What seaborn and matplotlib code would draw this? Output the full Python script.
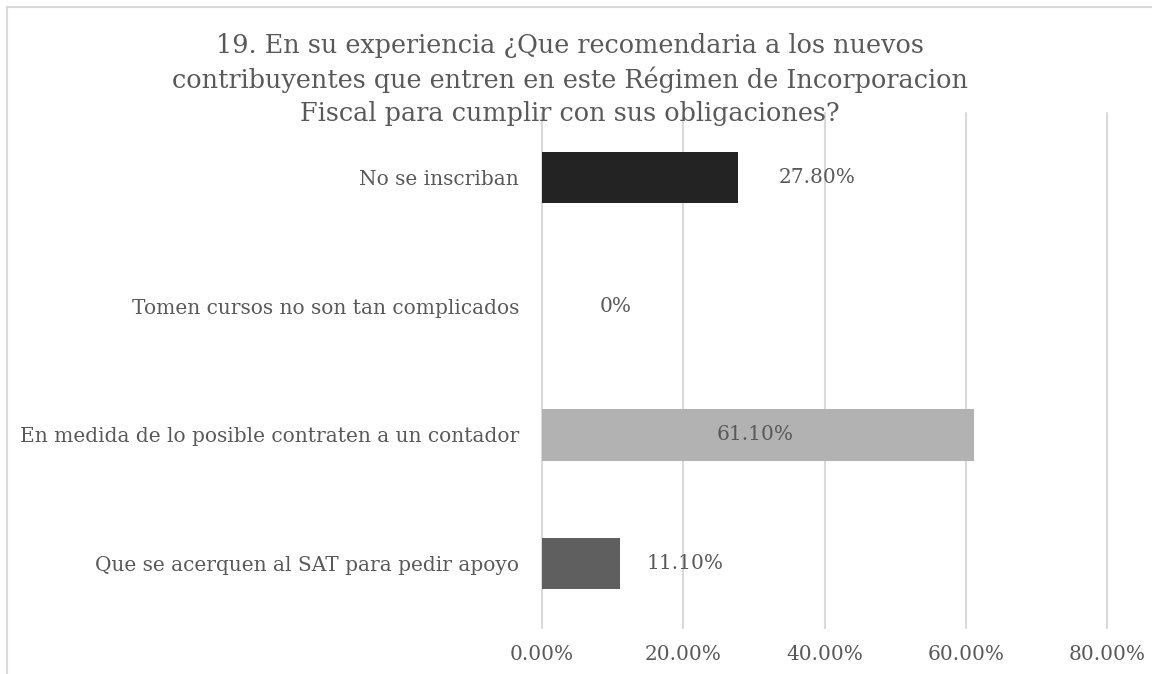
import matplotlib
matplotlib.use("Agg")
import matplotlib.pyplot as plt
import seaborn as sns
import pandas as pd
from matplotlib.lines import Line2D

# ---- data ----
categories = [
    "No se inscriban",
    "Tomen cursos no son tan complicados",
    "En medida de lo posible contraten a un contador",
    "Que se acerquen al SAT para pedir apoyo",
]
values = [0.278, 0.0, 0.611, 0.111]
value_labels = ["27.80%", "0%", "61.10%", "11.10%"]
x_ticks = [0.0, 0.2, 0.4, 0.6, 0.8]
x_tick_labels = ["0.00%", "20.00%", "40.00%", "60.00%", "80.00%"]
title_lines = [
    "19. En su experiencia ¿Que recomendaria a los nuevos",
    "contribuyentes que entren en este Régimen de Incorporacion",
    "Fiscal para cumplir con sus obligaciones?",
]

# ---- styles ----
bar_colors = ["#232323", "#ffffff", "#b2b2b2", "#5f5f5f"]
label_offsets_px = [40, 58, -257, 26]
text_color = "#595959"
grid_color = "#d9d9d9"

sns.set_theme(style="white")
plt.rcParams["font.family"] = ["DejaVu Serif", "DejaVu Sans"]

W, H, DPI = 1152, 674, 100
fig = plt.figure(figsize=(W / DPI, H / DPI), dpi=DPI)
ax = fig.add_axes([542 / W, 1 - 628 / H, (1107 - 542) / W, (628 - 113) / H])

df = pd.DataFrame({"cat": categories, "val": values})
sns.barplot(data=df, y="cat", x="val", hue="cat", palette=bar_colors,
            order=categories, hue_order=categories, orient="h",
            width=0.4, legend=False, ax=ax, zorder=3, saturation=1,
            linewidth=0)

ax.set_xlim(0, 0.8)
ax.set_xticks(x_ticks)
ax.set_xticklabels(x_tick_labels)
ax.set_xlabel("")
ax.set_ylabel("")
for s in ax.spines.values():
    s.set_visible(False)
ax.grid(axis="x", color=grid_color, linewidth=1.5, zorder=0)
ax.grid(axis="y", visible=False)
for gl in ax.get_xgridlines():
    gl.set_clip_on(False)
ax.tick_params(axis="y", length=0, pad=16.5, labelsize=14.5, labelcolor=text_color)
ax.tick_params(axis="x", length=0, pad=12, labelsize=14.5, labelcolor=text_color)
ax.set_axisbelow(True)

for i, (v, lab, off) in enumerate(zip(values, value_labels, label_offsets_px)):
    ax.annotate(lab, xy=(v, i), xytext=(off, 0), textcoords="offset pixels",
                ha="left", va="center", fontsize=14.5, color=text_color, zorder=5)

title_y = [46, 80, 113]
for line, yy in zip(title_lines, title_y):
    fig.text(0.495, 1 - yy / H, line, ha="center", va="center",
             fontsize=18.4, color=text_color)

# chart border (left and top visible)
fig.add_artist(Line2D([7 / W, 7 / W], [0, 1 - 7 / H], transform=fig.transFigure,
                      color=grid_color, linewidth=1.5))
fig.add_artist(Line2D([7 / W, 1], [1 - 7 / H, 1 - 7 / H], transform=fig.transFigure,
                      color=grid_color, linewidth=1.5))

fig.savefig("out.png", dpi=DPI, facecolor="white")
